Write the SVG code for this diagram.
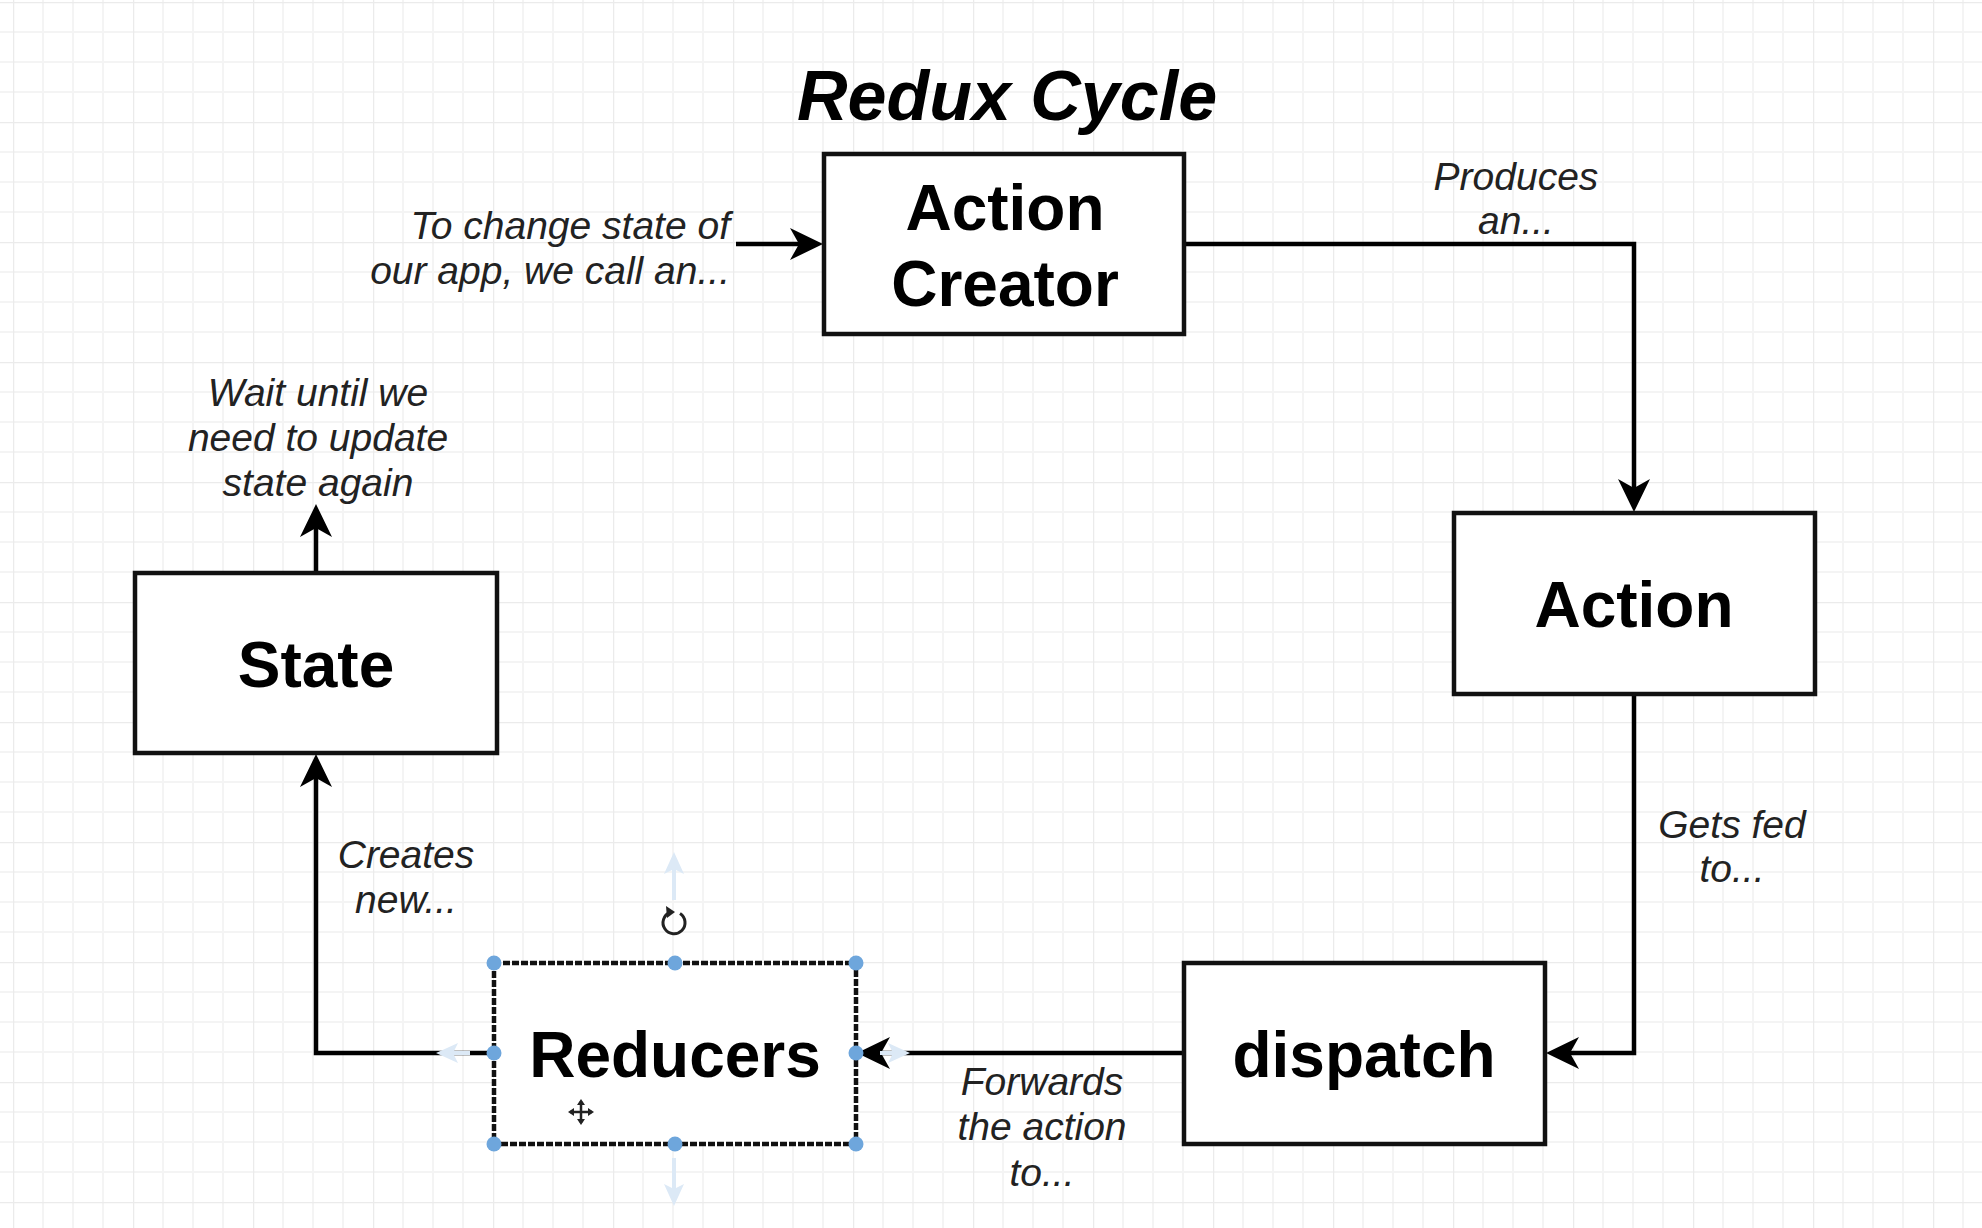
<svg xmlns="http://www.w3.org/2000/svg" width="1982" height="1228" viewBox="0 0 1982 1228">
<defs>
<pattern id="grid" patternUnits="userSpaceOnUse" x="13" y="2" width="120" height="120">
<path d="M30,0V120M60,0V120M90,0V120M0,30H120M0,60H120M0,90H120" stroke="#f4f4f4" stroke-width="2" fill="none"/>
<path d="M0,0V120M0,0H120" stroke="#ebebeb" stroke-width="2.5" fill="none"/>
</pattern>
<marker id="arr" markerUnits="userSpaceOnUse" markerWidth="34" markerHeight="34" viewBox="0 0 34 34" refX="22" refY="17" orient="auto">
<path d="M0,1 L33,17 L0,33 L9,17 Z" fill="#000"/>
</marker>
<marker id="hov" markerUnits="userSpaceOnUse" markerWidth="24" markerHeight="24" viewBox="0 0 24 24" refX="12" refY="12" orient="auto">
<path d="M0,2 L22,12 L0,22 L5,12 Z" fill="#dce9f6"/>
</marker>
<style>
.box{fill:#fff;stroke:#111;stroke-width:4.5}
.sel{fill:#fff;stroke:#111;stroke-width:4.5;stroke-dasharray:7 2}
.nt{font-family:"Liberation Sans",Arial,sans-serif;font-weight:bold;font-size:64px;fill:#000;text-anchor:middle}
.lb{font-family:"Liberation Sans",Arial,sans-serif;font-style:italic;font-size:39px;fill:#222;text-anchor:middle}
.ttl{font-family:"Liberation Sans",Arial,sans-serif;font-style:italic;font-weight:bold;font-size:70px;fill:#000;text-anchor:middle}
.cn{fill:none;stroke:#000;stroke-width:4.5;marker-end:url(#arr)}
.hv{fill:none;stroke:#dce9f6;stroke-width:4;marker-end:url(#hov)}
.hd{fill:#6ea6dc}
</style>
</defs>
<rect width="1982" height="1228" fill="#fff"/>
<rect width="1982" height="1228" fill="url(#grid)"/>

<text class="ttl" x="1007" y="120">Redux Cycle</text>

<g id="connectors">
<path class="cn" d="M736,244 H812"/>
<path class="cn" d="M1184,244 H1634 V501"/>
<path class="cn" d="M1634,694 V1053 H1557"/>
<path class="cn" d="M1184,1053 H868"/>
<path class="cn" d="M494,1053 H316 V765"/>
<path class="cn" d="M316,573 V515"/>
<text class="lb" style="text-anchor:end" x="730" y="239">To change state of</text>
<text class="lb" style="text-anchor:end" x="730" y="284">our app, we call an...</text>
<text class="lb" x="1516" y="190">Produces</text>
<text class="lb" x="1516" y="234">an...</text>
<text class="lb" x="1732" y="838">Gets fed</text>
<text class="lb" x="1732" y="882">to...</text>
<text class="lb" x="1042" y="1095">Forwards</text>
<text class="lb" x="1042" y="1140">the action</text>
<text class="lb" x="1042" y="1186">to...</text>
<text class="lb" x="406" y="868">Creates</text>
<text class="lb" x="406" y="913">new...</text>
<text class="lb" x="318" y="406">Wait until we</text>
<text class="lb" x="318" y="451">need to update</text>
<text class="lb" x="318" y="496">state again</text>
</g>

<g id="node-action-creator">
<rect class="box" x="824" y="154" width="360" height="180"/>
<text class="nt" x="1005" y="230">Action</text>
<text class="nt" x="1005" y="306">Creator</text>
</g>

<g id="node-action">
<rect class="box" x="1454" y="513" width="361" height="181"/>
<text class="nt" x="1634" y="627">Action</text>
</g>

<g id="node-dispatch">
<rect class="box" x="1184" y="963" width="361" height="181"/>
<text class="nt" x="1364" y="1077">dispatch</text>
</g>

<g id="node-state">
<rect class="box" x="135" y="573" width="362" height="180"/>
<text class="nt" x="316" y="687">State</text>
</g>

<g id="node-reducers">
<rect class="sel" x="494" y="963" width="362" height="181"/>
<text class="nt" x="675" y="1077">Reducers</text>
<path class="hv" d="M674,900 V862"/>
<path class="hv" d="M674,1158 V1196"/>
<path class="hv" d="M470,1053 H446"/>
<path class="hv" d="M880,1053 H900"/>
<circle class="hd" cx="494" cy="963" r="7.5"/>
<circle class="hd" cx="675" cy="963" r="7.5"/>
<circle class="hd" cx="856" cy="963" r="7.5"/>
<circle class="hd" cx="494" cy="1053" r="7.5"/>
<circle class="hd" cx="856" cy="1053" r="7.5"/>
<circle class="hd" cx="494" cy="1144" r="7.5"/>
<circle class="hd" cx="675" cy="1144" r="7.5"/>
<circle class="hd" cx="856" cy="1144" r="7.5"/>
<path d="M680,913.5 A11,11 0 1 1 670,912.5" fill="none" stroke="#222" stroke-width="3"/>
<path d="M666,906 L675,912 L667,918 Z" fill="#222"/>
<g stroke="#222" stroke-width="2.5" fill="none">
<path d="M581,1101 V1123 M570,1112 H592"/>
</g>
<g fill="#222">
<path d="M581,1099 L577,1105 H585 Z"/>
<path d="M581,1125 L577,1119 H585 Z"/>
<path d="M568,1112 L574,1108 V1116 Z"/>
<path d="M594,1112 L588,1108 V1116 Z"/>
</g>
</g>
</svg>
